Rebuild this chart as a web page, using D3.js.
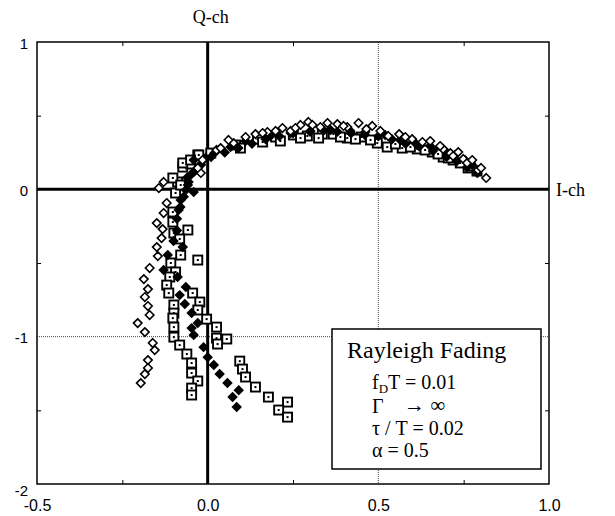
<!DOCTYPE html>
<html>
<head>
<meta charset="utf-8">
<script src="https://cdn.jsdelivr.net/npm/d3@7"></script>
<style>
  body { margin: 0; background: #fff; }
  svg { display: block; }
</style>
</head>
<body>
<script>
// tick labels
var xTicks = [-0.5, 0.0, 0.5, 1.0];
var yTicks = [1, 0, -1, -2];

// open diamonds [I, Q]
var openDiamonds = [
  [-0.129, 0.050], [-0.143, 0.009], [-0.120, -0.093], [-0.129, -0.161], [-0.149, -0.229],
  [-0.132, -0.270], [-0.135, -0.331], [-0.149, -0.392], [-0.146, -0.453], [-0.170, -0.534],
  [-0.187, -0.609], [-0.175, -0.677], [-0.184, -0.731], [-0.175, -0.792], [-0.170, -0.853],
  [-0.205, -0.908], [-0.184, -0.969], [-0.161, -1.043], [-0.155, -1.091], [-0.175, -1.159],
  [-0.175, -1.213], [-0.184, -1.254], [-0.196, -1.315],
  [-0.020, 0.111], [-0.029, 0.145], [-0.015, 0.199], [0.026, 0.267], [0.038, 0.280],
  [0.076, 0.314], [0.140, 0.375], [0.175, 0.389], [0.219, 0.416], [0.243, 0.396],
  [0.272, 0.437], [0.295, 0.457], [0.307, 0.437], [0.351, 0.450], [0.380, 0.443],
  [0.409, 0.423], [0.442, 0.450], [0.482, 0.430], [0.529, 0.362], [0.561, 0.375],
  [0.599, 0.341], [0.629, 0.321], [0.690, 0.274], [0.711, 0.246], [0.719, 0.226],
  [0.749, 0.206], [0.760, 0.179], [0.792, 0.131], [0.816, 0.077],
  [0.061, 0.335], [0.111, 0.355], [0.161, 0.382], [0.199, 0.396], [0.257, 0.416],
  [0.330, 0.423], [0.398, 0.430], [0.465, 0.409], [0.506, 0.396], [0.579, 0.355],
  [0.652, 0.328], [0.681, 0.294], [0.734, 0.253], [0.775, 0.199], [0.801, 0.145]
];

// filled diamonds [I, Q]
var filledDiamonds = [
  [-0.058, 0.029], [-0.041, -0.018], [-0.070, -0.050], [-0.080, -0.120], [-0.090, -0.200],
  [-0.090, -0.280], [-0.100, -0.350], [-0.073, -0.392], [-0.117, -0.446], [-0.129, -0.548],
  [-0.088, -0.595], [-0.064, -0.663], [-0.082, -0.718], [-0.067, -0.779], [-0.047, -0.840],
  [-0.029, -0.908], [-0.047, -0.942], [-0.041, -0.989], [-0.012, -1.071], [0.000, -1.139],
  [0.018, -1.193], [0.035, -1.254], [0.058, -1.315], [0.091, -1.363], [0.073, -1.410],
  [0.085, -1.478],
  [-0.060, 0.080], [-0.040, 0.120], [-0.020, 0.170], [0.010, 0.220], [0.050, 0.250],
  [0.090, 0.280], [0.130, 0.310], [0.170, 0.340], [0.210, 0.360], [0.250, 0.380],
  [0.300, 0.390], [0.340, 0.400], [0.380, 0.390], [0.420, 0.380], [0.460, 0.370],
  [0.500, 0.360], [0.540, 0.340], [0.580, 0.310], [0.620, 0.290], [0.660, 0.260],
  [0.700, 0.220], [0.730, 0.190], [0.760, 0.150], [0.790, 0.110],
  [-0.050, 0.097], [-0.035, 0.131], [-0.056, 0.050], [-0.020, 0.165], [-0.041, 0.199],
  [-0.064, -0.005], [-0.079, -0.073], [-0.085, -0.141], [-0.006, 0.212], [0.023, 0.253],
  [0.067, 0.287], [0.111, 0.328], [0.184, 0.362], [0.243, 0.382], [0.301, 0.396],
  [0.360, 0.403], [0.418, 0.396], [0.462, 0.389], [0.520, 0.369], [0.564, 0.335],
  [0.608, 0.314], [0.652, 0.294], [0.696, 0.260], [0.725, 0.233], [0.754, 0.199],
  [0.775, 0.165]
];

// dotted squares [I, Q]
var squares = [
  [-0.073, 0.151], [-0.050, 0.172], [-0.029, 0.233], [-0.088, 0.050], [-0.094, -0.025],
  [-0.102, -0.154], [-0.102, -0.222], [-0.058, -0.276], [-0.099, -0.297], [-0.082, -0.337],
  [-0.079, -0.446], [-0.029, -0.480], [-0.108, -0.500], [-0.094, -0.561], [-0.111, -0.595],
  [-0.120, -0.650], [-0.114, -0.704], [-0.044, -0.704], [-0.023, -0.765], [-0.099, -0.785],
  [-0.029, -0.819], [-0.099, -0.840], [-0.102, -0.874], [-0.003, -0.881], [-0.099, -0.935],
  [0.026, -0.935], [-0.099, -1.003], [0.026, -1.010], [0.056, -1.016], [0.029, -1.050],
  [-0.082, -1.057], [-0.061, -1.118], [-0.047, -1.179], [-0.047, -1.247], [-0.029, -1.301],
  [-0.047, -1.349], [-0.047, -1.396], [0.094, -1.166], [0.102, -1.220], [0.111, -1.274],
  [0.140, -1.342], [0.178, -1.410], [0.234, -1.444], [0.208, -1.498], [0.234, -1.546],
  [-0.026, 0.233], [0.009, 0.246], [0.082, 0.301], [0.146, 0.341], [0.199, 0.355],
  [0.251, 0.369], [0.292, 0.362], [0.336, 0.375], [0.368, 0.375], [0.409, 0.348],
  [0.450, 0.355], [0.497, 0.314], [0.526, 0.287], [0.570, 0.280], [0.614, 0.274],
  [0.658, 0.253], [0.690, 0.219], [0.719, 0.199], [0.763, 0.145], [0.789, 0.124],
  [-0.073, 0.179], [-0.050, 0.199], [-0.102, 0.077], [-0.079, 0.029],
  [0.096, 0.280], [0.161, 0.321], [0.213, 0.328], [0.272, 0.348], [0.325, 0.348],
  [0.389, 0.355], [0.433, 0.341], [0.477, 0.335], [0.550, 0.308], [0.594, 0.287],
  [0.637, 0.267], [0.675, 0.240], [0.705, 0.213], [0.740, 0.179], [0.769, 0.158]
];

var legendLines = ["T = 0.01", "\u0393", "\u03c4 / T = 0.02", "\u03b1 = 0.5"];

var w = 615, h = 516;
var pLeft = 37, pRight = 549, pTop = 42, pBottom = 484;

var svg = d3.select("body").append("svg")
  .attr("width", w)
  .attr("height", h);

var x = d3.scaleLinear().domain([-0.5, 1]).range([pLeft, pRight]);
var y = d3.scaleLinear().domain([-2, 1]).range([pBottom, pTop]);

// dotted grid
svg.append("line")
  .attr("x1", x(0.5)).attr("x2", x(0.5))
  .attr("y1", pTop).attr("y2", pBottom)
  .attr("stroke", "#444").attr("stroke-width", 1)
  .attr("stroke-dasharray", "1,1");
svg.append("line")
  .attr("x1", pLeft).attr("x2", pRight)
  .attr("y1", y(-1)).attr("y2", y(-1))
  .attr("stroke", "#444").attr("stroke-width", 1)
  .attr("stroke-dasharray", "1,1");

// minor ticks inward
var minorX = [-0.25, 0.25, 0.75];
var minorY = [0.5, -0.5, -1.5];
function noDomain(g) { g.select(".domain").remove(); }
svg.append("g").attr("transform", "translate(0," + pBottom + ")")
  .call(d3.axisTop(x).tickValues(minorX).tickSize(4).tickFormat(""))
  .call(noDomain);
svg.append("g").attr("transform", "translate(0," + pTop + ")")
  .call(d3.axisBottom(x).tickValues(minorX).tickSize(4).tickFormat(""))
  .call(noDomain);
svg.append("g").attr("transform", "translate(" + pLeft + ",0)")
  .call(d3.axisRight(y).tickValues(minorY).tickSize(4).tickFormat(""))
  .call(noDomain);
svg.append("g").attr("transform", "translate(" + pRight + ",0)")
  .call(d3.axisLeft(y).tickValues(minorY).tickSize(4).tickFormat(""))
  .call(noDomain);

// frame
svg.append("rect")
  .attr("x", pLeft).attr("y", pTop)
  .attr("width", pRight - pLeft).attr("height", pBottom - pTop)
  .attr("fill", "none").attr("stroke", "#000").attr("stroke-width", 1.5);

// zero axes
svg.append("line")
  .attr("x1", x(0)).attr("x2", x(0))
  .attr("y1", pTop).attr("y2", pBottom)
  .attr("stroke", "#000").attr("stroke-width", 3);
svg.append("line")
  .attr("x1", pLeft).attr("x2", pRight)
  .attr("y1", y(0)).attr("y2", y(0))
  .attr("stroke", "#000").attr("stroke-width", 3);

// tick labels
var xAxis = svg.append("g").attr("transform", "translate(0," + pBottom + ")")
  .call(d3.axisBottom(x).tickValues(xTicks).tickSize(0).tickPadding(16)
    .tickFormat(function(d) { return d.toFixed(1); }));
xAxis.call(noDomain);
xAxis.selectAll("text")
  .attr("font-family", "Liberation Sans, Arial, sans-serif")
  .attr("font-size", "16px").attr("fill", "#000");

var yAxis = svg.append("g").attr("transform", "translate(" + pLeft + ",0)")
  .call(d3.axisLeft(y).tickValues(yTicks).tickSize(0).tickPadding(9)
    .tickFormat(function(d) { return String(d); }));
yAxis.call(noDomain);
yAxis.selectAll("text")
  .attr("font-family", "Liberation Sans, Arial, sans-serif")
  .attr("font-size", "15px").attr("fill", "#000")
  .attr("dy", function(d) { return d == -2 ? "0.75em" : "0.4em"; });

// channel labels
svg.append("text")
  .attr("x", x(0) + 3).attr("y", 23)
  .attr("text-anchor", "middle")
  .attr("font-family", "Liberation Serif, Times New Roman, serif")
  .attr("font-size", "18px")
  .text("Q-ch");
svg.append("text")
  .attr("x", 556).attr("y", y(0) + 7)
  .attr("font-family", "Liberation Serif, Times New Roman, serif")
  .attr("font-size", "18px")
  .text("I-ch");

// markers
var diamond = d3.symbol().type(d3.symbolDiamond2);

svg.append("g").selectAll("g")
  .data(squares)
  .enter()
  .append("g")
  .attr("transform", function(d) { return "translate(" + x(d[0]) + "," + y(d[1]) + ")"; })
  .each(function() {
    d3.select(this).append("rect")
      .attr("x", -4.5).attr("y", -4.5).attr("width", 9).attr("height", 9)
      .attr("fill", "#fff").attr("stroke", "#000").attr("stroke-width", 1.9);
    d3.select(this).append("rect")
      .attr("x", -1).attr("y", -1).attr("width", 2).attr("height", 2)
      .attr("fill", "#000");
  });

svg.append("g").selectAll("path")
  .data(filledDiamonds)
  .enter()
  .append("path")
  .attr("d", diamond.size(70)())
  .attr("transform", function(d) { return "translate(" + x(d[0]) + "," + y(d[1]) + ")"; })
  .attr("fill", "#000");

svg.append("g").selectAll("path")
  .data(openDiamonds)
  .enter()
  .append("path")
  .attr("d", diamond.size(46)())
  .attr("transform", function(d) { return "translate(" + x(d[0]) + "," + y(d[1]) + ")"; })
  .attr("fill", "#fff")
  .attr("stroke", "#000")
  .attr("stroke-width", 1.6);

// legend box
var lg = svg.append("g");
lg.append("rect")
  .attr("x", 332).attr("y", 329).attr("width", 209).attr("height", 140)
  .attr("fill", "#fff").attr("stroke", "#000").attr("stroke-width", 1.5);

var serif = "Liberation Serif, Times New Roman, serif";
lg.append("text")
  .attr("x", 347).attr("y", 358)
  .attr("font-family", serif).attr("font-size", "24px")
  .text("Rayleigh Fading");

var t1 = lg.append("text")
  .attr("x", 372).attr("y", 389)
  .attr("font-family", serif).attr("font-size", "20px");
t1.append("tspan").text("f");
t1.append("tspan").attr("font-size", "13px").attr("dy", 4).text("D");
t1.append("tspan").attr("dy", -4).text(legendLines[0]);

lg.append("text")
  .attr("x", 372).attr("y", 413)
  .attr("font-family", serif).attr("font-size", "20px")
  .text(legendLines[1]);
lg.append("text")
  .attr("x", 404).attr("y", 412)
  .attr("font-family", serif).attr("font-size", "21px")
  .text("\u2192 \u221e");

lg.append("text")
  .attr("x", 372).attr("y", 435)
  .attr("font-family", serif).attr("font-size", "20px")
  .text(legendLines[2]);
lg.append("text")
  .attr("x", 372).attr("y", 457)
  .attr("font-family", serif).attr("font-size", "20px")
  .text(legendLines[3]);
</script>
</body>
</html>
